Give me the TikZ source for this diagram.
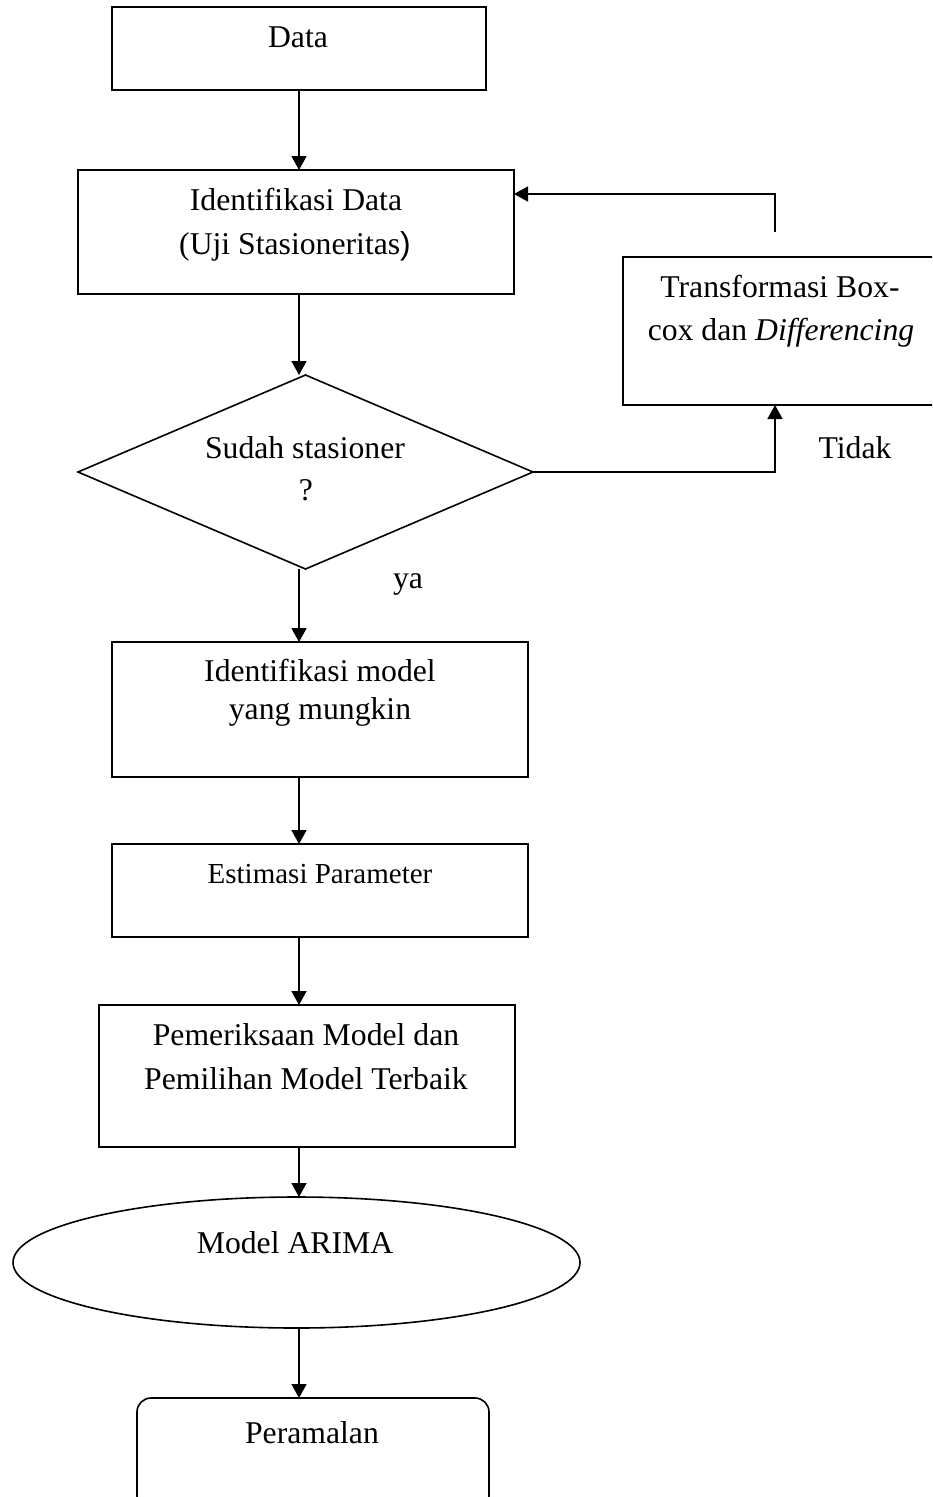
\documentclass[tikz,border=0pt]{standalone}
\usepackage{fontspec}
\setmainfont{Liberation Serif}
\newfontfamily\parenfont{Liberation Sans}
\usetikzlibrary{arrows.meta,shapes.geometric}
\begin{document}
\begin{tikzpicture}[x=1pt,y=-1pt,
  box/.style={draw, line width=1.6pt, inner sep=0pt, outer sep=0pt},
  lbl/.style={anchor=base, inner sep=0pt, font=\fontsize{31.7}{38}\selectfont},
  arr/.style={line width=1.6pt, -{Triangle[length=14pt,width=15pt]}},
  ln/.style={line width=1.6pt}]
\useasboundingbox (0,0) rectangle (932,1497);
\fill[white] (0,0) rectangle (932,1497);
\clip (0,0) rectangle (932,1497);
% shapes
\node[box, minimum width=374pt, minimum height=83pt] (data) at (299,48.5) {};
\node[box, minimum width=436pt, minimum height=124pt] (ident) at (296,232) {};
\node[box, shape=diamond, minimum width=455pt, minimum height=194pt] (dia) at (305.5,472) {};
\node[box, minimum width=314pt, minimum height=148pt] (tr) at (780,331) {};
\node[box, minimum width=416pt, minimum height=135pt] (idm) at (320,709.5) {};
\node[box, minimum width=416pt, minimum height=93pt] (est) at (320,890.5) {};
\node[box, minimum width=416pt, minimum height=142pt] (pem) at (307,1076) {};
\node[box, shape=ellipse, minimum width=567pt, minimum height=131pt] (ell) at (296.5,1262.5) {};
\node[box, rounded corners=14pt, minimum width=352pt, minimum height=112pt] (per) at (313,1454) {};
% texts
\node[lbl] (tdata) at (298,47) {Data};
\node[lbl] (tid1) at (296,210) {Identifikasi Data};
\node[lbl] (tid2) at (295,254) {(Uji Stasioneritas{\parenfont )}};
\node[lbl] (tdia1) at (305,458) {Sudah stasioner};
\node[lbl] (tdia2) at (306,500) {?};
\node[lbl] (tya) at (408,588) {ya};
\node[lbl] (ttidak) at (855,458) {Tidak};
\node[lbl] (ttr1) at (780,297) {Transformasi Box-};
\node[lbl] (ttr2) at (781,340) {cox dan \textit{Differencing}};
\node[lbl] (tidm1) at (320,681) {Identifikasi model};
\node[lbl] (tidm2) at (320,719) {yang mungkin};
\node[lbl, font=\fontsize{29}{35}\selectfont] (test) at (320,883) {Estimasi Parameter};
\node[lbl] (tpem1) at (306,1045) {Pemeriksaan Model dan};
\node[lbl] (tpem2) at (306,1089) {Pemilihan Model Terbaik};
\node[lbl] (tell) at (295,1253) {Model ARIMA};
\node[lbl] (tper) at (312,1443) {Peramalan};
% main axis connectors
\draw[arr] (data.south) -- (data.south |- ident.north);
\draw[arr] (data.south |- ident.south) -- (data.south |- dia.north);
\draw[arr] (data.south |- dia.south) -- (data.south |- idm.north);
\draw[arr] (data.south |- idm.south) -- (data.south |- est.north);
\draw[arr] (data.south |- est.south) -- (data.south |- pem.north);
\draw[arr] (data.south |- pem.south) -- (data.south |- ell.north);
\draw[arr] (data.south |- ell.south) -- (data.south |- per.north);
% feedback loop
\coordinate (fb) at (775,232);
\coordinate (ret) at (514,194);
\draw[arr] (dia.east) -| (fb |- tr.south);
\draw[arr] (fb) |- (ret);
\end{tikzpicture}
\end{document}
